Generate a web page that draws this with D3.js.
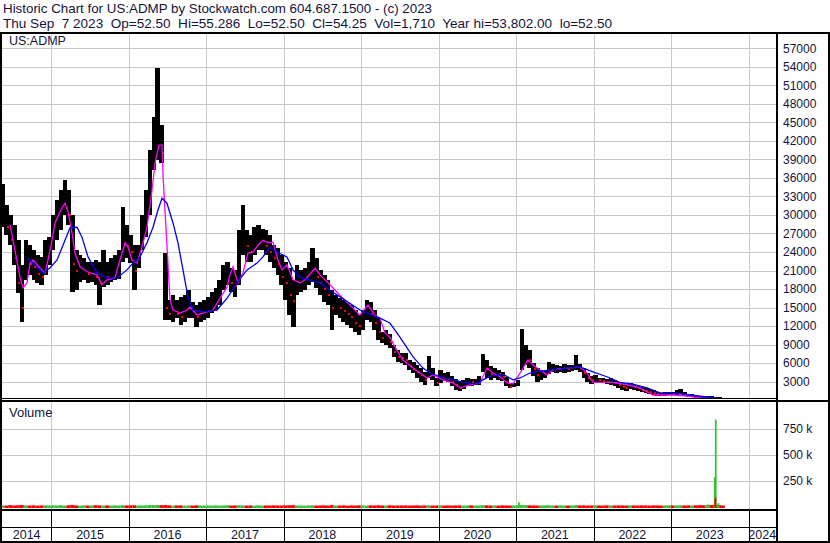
<!DOCTYPE html>
<html><head><meta charset="utf-8">
<script src="https://cdn.jsdelivr.net/npm/d3@7"></script>
<style>
body{margin:0;background:#fff}
svg{display:block}
text{font-family:"Liberation Sans",Arial,sans-serif;fill:#14143a}
</style>
</head><body>
<svg id="chart" width="830" height="543"></svg>
<script>
// ---------------- DATA ----------------
const titleLine1 = "Historic Chart for US:ADMP by Stockwatch.com 604.687.1500 - (c) 2023";
const titleLine2 = "Thu Sep  7 2023  Op=52.50  Hi=55.286  Lo=52.50  Cl=54.25  Vol=1,710  Year hi=53,802.00  lo=52.50";
const symbolLabel = "US:ADMP";
const volumeLabel = "Volume";

const priceTicks = [3000,6000,9000,12000,15000,18000,21000,24000,27000,30000,33000,36000,39000,42000,45000,48000,51000,54000,57000];
const volumeTicks = [250000,500000,750000];
const volumeTickLabels = ["250 k","500 k","750 k"];
const yearLabels = ["2014","2015","2016","2017","2018","2019","2020","2021","2022","2023","2024"];
const yearBoundaries = [2015,2016,2017,2018,2019,2020,2021,2022,2023,2024];

// price bars (decimal year, high, low, close)
const barDates = [2014.37,2014.42,2014.47,2014.52,2014.57,2014.62,2014.67,2014.72,2014.77,2014.82,2014.87,2014.92,2014.97,
2015.02,2015.07,2015.12,2015.17,2015.22,2015.27,2015.32,2015.37,2015.42,2015.47,2015.52,2015.57,2015.62,2015.67,2015.72,2015.77,2015.82,2015.87,2015.92,2015.97,
2016.02,2016.07,2016.12,2016.17,2016.22,2016.27,2016.32,2016.37,2016.42,2016.47,2016.52,2016.57,2016.62,2016.67,2016.72,2016.77,2016.82,2016.87,2016.92,2016.97,
2017.02,2017.07,2017.12,2017.17,2017.22,2017.27,2017.32,2017.37,2017.42,2017.47,2017.52,2017.57,2017.62,2017.67,2017.72,2017.77,2017.82,2017.87,2017.92,2017.97,
2018.02,2018.07,2018.12,2018.17,2018.22,2018.27,2018.32,2018.37,2018.42,2018.47,2018.52,2018.57,2018.62,2018.67,2018.72,2018.77,2018.82,2018.87,2018.92,2018.97,
2019.02,2019.07,2019.12,2019.17,2019.22,2019.27,2019.32,2019.37,2019.42,2019.47,2019.52,2019.57,2019.62,2019.67,2019.72,2019.77,2019.82,2019.87,2019.92,2019.97,
2020.02,2020.07,2020.12,2020.17,2020.22,2020.27,2020.32,2020.37,2020.42,2020.47,2020.52,2020.57,2020.62,2020.67,2020.72,2020.77,2020.82,2020.87,2020.92,2020.97,
2021.02,2021.07,2021.12,2021.17,2021.22,2021.27,2021.32,2021.37,2021.42,2021.47,2021.52,2021.57,2021.62,2021.67,2021.72,2021.77,2021.82,2021.87,2021.92,2021.97,
2022.02,2022.07,2022.12,2022.17,2022.22,2022.27,2022.32,2022.37,2022.42,2022.47,2022.52,2022.57,2022.62,2022.67,2022.72,2022.77,2022.82,2022.87,2022.92,2022.97,
2023.02,2023.07,2023.12,2023.17,2023.22,2023.27,2023.32,2023.37,2023.42,2023.47,2023.52,2023.57,2023.62,2023.67];
const barHigh = [35000,31600,30000,28400,25900,21900,25900,25100,24300,23500,23200,25900,26400,
30000,32400,34000,35700,34000,30000,24300,23500,23000,22400,22400,22700,22400,24300,22400,23000,23500,24300,31300,28400,
26700,25100,25100,30000,34000,40500,45900,53800,44600,23800,16200,17000,16200,16700,17000,17800,15900,15400,15900,16200,
16700,17500,18100,19500,21900,22400,21400,21100,27600,31600,27600,26700,28000,28400,27800,27600,26700,25100,24600,23500,
22400,21400,19500,21900,21100,21400,22400,24600,23000,21100,20300,19500,17800,17000,16500,16200,15700,15400,14600,13800,
14600,16200,15900,14600,13300,11000,11400,10700,8900,8100,7600,7600,6500,6200,5700,5200,4600,7100,5200,3600,
4900,4400,4600,3900,3400,3100,3300,3600,3400,3400,3900,7500,6500,5500,5200,4900,4600,3800,2800,2800,
3300,11500,8900,8100,6000,5200,4900,4700,6200,5800,5700,5500,5800,5700,5700,7300,5800,5200,4400,3900,
4100,3600,3600,3400,3600,3300,2900,2800,2500,2800,2600,2300,2100,2000,1800,1700,1300,1200,1300,1300,
1300,1700,1800,1300,1000,1000,840,680,680,680,680,500,500,350];
const barLow = [28000,26700,25100,21900,17400,12700,19500,20300,19500,19000,18700,20300,21900,
24300,25900,27600,30000,28400,17500,17800,19200,19500,19000,19200,18700,15400,18300,18700,19200,19500,19700,22400,23000,
22200,17800,21400,24300,26400,30000,37300,38900,38400,13000,13000,12700,13300,12200,12700,13300,13300,11900,12700,13000,
13300,14100,14600,15400,17800,18700,17500,16700,18700,23500,22400,22400,23500,24300,24300,23500,22400,21400,20300,18700,
16200,13800,11900,17000,17500,17800,18700,19200,18100,17000,15900,15400,11400,13800,13300,12700,12200,11700,11100,10600,
11400,13000,12700,11400,9700,9200,8900,8400,7000,6200,6000,5700,4900,4400,3600,2900,2500,3600,3300,2300,
2800,3100,2900,2300,1700,1500,1800,2300,2300,2500,2500,4600,3600,3300,3600,3300,3100,2300,2000,2100,
2300,4900,5700,5200,3900,2900,3300,3600,4200,4600,4400,4600,4400,4600,4800,4900,4600,3600,2900,2600,
2900,2800,2800,2600,2500,2300,2000,1700,1500,1800,1700,1500,1300,1200,1000,840,680,680,680,840,
840,840,1000,680,520,520,360,360,200,200,200,100,80,50];
const barClose = [30000,28000,26000,23000,19000,15000,23000,22000,21500,20500,20000,22000,24000,
27000,29000,31000,33000,30000,22000,21000,21000,21000,20500,21000,20000,19000,21000,20000,21000,21500,22000,26000,25000,
24000,21000,24000,27000,30000,36000,42000,44000,40000,15000,14000,14500,14000,13500,14000,15000,14500,13500,14000,14500,
15000,16000,16500,17500,20000,21000,19000,18500,24000,26000,25000,24000,26000,26000,26000,25000,24000,23000,22000,20000,
19000,17000,16000,19000,19000,20000,21000,22000,20000,19000,18000,17000,15000,15500,15000,14500,14000,13500,12500,12000,
13000,14500,14000,12500,11000,10000,10000,9500,7800,7000,6800,6500,5500,5000,4500,4000,3300,5000,4000,2800,
3800,3600,3500,3000,2500,2000,2300,3000,2900,3000,3300,6000,5000,4300,4500,4200,3800,3000,2200,2300,
2800,7000,7000,6500,5000,4000,4000,4200,5000,5200,5000,5000,5200,5100,5200,5500,5200,4400,3600,3200,
3300,3200,3100,3000,3000,2800,2500,2200,2000,2300,2200,1900,1700,1500,1300,1200,1000,900,1000,1100,
1000,1100,1300,900,700,700,600,500,400,400,300,200,150,54];
const barVolume = [16000,14000,18000,15000,17000,19000,15000,14000,16000,13000,15000,17000,14000,
16000,15000,18000,14000,16000,19000,15000,13000,16000,14000,15000,17000,16000,14000,15000,13000,16000,14000,18000,15000,
16000,17000,14000,15000,16000,19000,18000,20000,17000,19000,16000,14000,15000,16000,13000,15000,14000,16000,15000,14000,
15000,13000,16000,14000,15000,17000,14000,15000,18000,16000,14000,15000,13000,16000,14000,15000,14000,16000,15000,14000,
16000,17000,18000,15000,14000,13000,15000,16000,14000,15000,16000,14000,18000,15000,14000,16000,13000,15000,14000,16000,
15000,14000,16000,15000,17000,15000,14000,16000,15000,14000,15000,16000,14000,15000,16000,14000,15000,17000,14000,15000,
16000,14000,15000,14000,16000,15000,14000,15000,16000,14000,15000,18000,16000,14000,15000,14000,16000,15000,14000,15000,
16000,20000,18000,16000,15000,14000,16000,15000,17000,15000,14000,16000,15000,14000,15000,17000,15000,16000,14000,15000,
16000,15000,14000,16000,15000,14000,16000,15000,14000,16000,15000,14000,16000,15000,14000,16000,15000,14000,15000,16000,
15000,16000,17000,15000,16000,15000,17000,18000,16000,19000,20000,22000,18000,15000];

// isolated volume spikes
const spikeDates  = [2020.570,2021.035,2021.397,2021.410,2021.779,2023.477,2023.563,2023.576,2023.611,2023.392,2023.572];
const spikeVolume = [8000,46000,15000,10000,20000,25000,287000,841000,36000,12000,90000];
const spikeUp     = [true,true,true,true,true,true,true,true,true,false,false];

// short moving average (magenta)
const maShortDates = [2014.467,2014.531,2014.596,2014.635,2014.686,2014.725,2014.763,2014.854,2014.919,2014.957,2015.009,2015.048,2015.112,2015.177,2015.216,2015.267,2015.306,2015.371,2015.461,2015.590,2015.654,2015.719,2015.822,2015.887,2015.952,2015.990,2016.042,2016.106,2016.171,2016.235,2016.300,2016.339,2016.390,2016.429,2016.442,2016.493,2016.532,2016.571,2016.661,2016.752,2016.790,2016.881,2016.958,2017.087,2017.177,2017.268,2017.307,2017.345,2017.410,2017.474,2017.539,2017.604,2017.668,2017.733,2017.797,2017.862,2017.926,2017.978,2018.042,2018.120,2018.210,2018.275,2018.404,2018.468,2018.597,2018.726,2018.855,2018.984,2019.088,2019.178,2019.242,2019.307,2019.371,2019.436,2019.539,2019.669,2019.759,2019.850,2019.927,2020.056,2020.185,2020.276,2020.405,2020.534,2020.624,2020.702,2020.792,2020.882,2020.959,2021.050,2021.153,2021.218,2021.308,2021.398,2021.476,2021.656,2021.824,2021.915,2021.992,2022.250,2022.431,2022.599,2022.767,2023.025,2023.205,2023.373,2023.670];
const maShortValues = [28400,24300,19900,18200,19000,22200,22700,21400,20600,22700,25900,28700,30500,31900,30500,27100,23800,21600,20800,20300,18700,19500,19800,22700,25500,24800,22700,22200,24800,28000,34000,38400,41300,41300,36500,25100,16200,14600,14100,14600,15100,13800,14100,14600,16500,18300,20300,21600,19000,20600,23800,24000,25100,25900,25500,25600,22700,21100,21900,19500,19000,19500,21400,20300,18700,17000,15400,13800,15400,13800,13300,10900,10200,8600,6500,5200,4400,3600,4100,3300,2800,2000,2500,2800,5200,4400,3800,2800,2600,4400,6500,5700,4900,4100,4900,5200,5400,4400,2900,2900,2500,2000,840,840,680,360,200];

// long moving average (blue)
const maLongDates = [2014.699,2014.893,2014.983,2015.074,2015.177,2015.241,2015.332,2015.396,2015.474,2015.590,2015.719,2015.848,2015.977,2016.055,2016.145,2016.235,2016.313,2016.377,2016.429,2016.493,2016.571,2016.635,2016.700,2016.764,2016.829,2016.958,2017.138,2017.268,2017.397,2017.526,2017.655,2017.732,2017.823,2017.913,2018.042,2018.120,2018.210,2018.468,2018.597,2018.791,2018.984,2019.242,2019.371,2019.500,2019.669,2019.798,2019.888,2020.017,2020.185,2020.366,2020.495,2020.572,2020.663,2020.830,2020.959,2021.050,2021.179,2021.308,2021.476,2021.656,2021.824,2021.992,2022.172,2022.340,2022.508,2022.689,2022.857,2023.025,2023.244,2023.464,2023.670];
const maLongValues = [23000,20600,21400,22700,25900,27900,28000,26400,23200,20600,19800,19800,21100,22200,23200,25500,28000,30800,32700,31900,28700,25500,21100,16700,14600,14300,14600,16500,19000,21100,22200,23200,24800,24000,23200,21100,19900,19000,17800,16200,14600,13300,12500,10200,7000,5200,4400,3800,3300,2800,2600,3300,3900,4200,3300,3600,4400,4700,4900,5200,5400,4600,3800,2900,2600,2000,1200,1200,840,520,200];

// ---------------- LAYOUT ----------------
const svg = d3.select("#chart");
const plotL = 2, plotR = 776, frameTop = 33, priceBottom = 398.8, volTop = 401, volBottom = 509.5;
const rowLine = 527.5, bottomLine = 541.5, W = 830;

const x = d3.scaleLinear().domain([2015, 2024]).range([51.3, 748.5]);
const yP = d3.scaleLinear().domain([0, 57000]).range([400.2, 48.2]);
const yV = d3.scaleLinear().domain([0, 250000]).range([507, 481]);

svg.append("rect").attr("width", W).attr("height", 543).attr("fill", "#fff");

// clip paths
const defs = svg.append("defs");
defs.append("clipPath").attr("id","clipP").append("rect")
  .attr("x", plotL).attr("y", frameTop).attr("width", plotR-plotL).attr("height", priceBottom-frameTop);
defs.append("clipPath").attr("id","clipV").append("rect")
  .attr("x", plotL).attr("y", volTop+1).attr("width", plotR-plotL).attr("height", volBottom-volTop-2);

// gridlines
const grid = svg.append("g").attr("stroke", "#c8c8c8").attr("stroke-width", 1).attr("shape-rendering","crispEdges");
grid.selectAll("line.v").data(yearBoundaries).join("line")
  .attr("x1", d => Math.round(x(d))+0.5).attr("x2", d => Math.round(x(d))+0.5)
  .attr("y1", frameTop).attr("y2", volBottom);
grid.selectAll("line.p").data(priceTicks).join("line")
  .attr("x1", plotL).attr("x2", plotR)
  .attr("y1", d => Math.round(yP(d))+0.5).attr("y2", d => Math.round(yP(d))+0.5);
grid.selectAll("line.vv").data(volumeTicks).join("line")
  .attr("x1", plotL).attr("x2", plotR)
  .attr("y1", d => Math.round(yV(d))+0.5).attr("y2", d => Math.round(yV(d))+0.5);

// price bars
const bars = barDates.map((d,i) => ({d, hi: barHigh[i], lo: barLow[i], c: barClose[i],
  up: i === 0 || barClose[i] >= barClose[i-1], v: barVolume[i]}));
const step = x(barDates[1]) - x(barDates[0]);
const gP = svg.append("g").attr("clip-path", "url(#clipP)");
gP.append("g").attr("shape-rendering", "crispEdges")
  .selectAll("rect").data(bars).join("rect")
  .attr("x", d => x(d.d) - step*0.5).attr("width", step + 0.6)
  .attr("y", d => yP(d.hi)).attr("height", d => Math.max(1.2, yP(d.lo) - yP(d.hi)))
  .attr("fill", "#000");
gP.append("g").attr("shape-rendering", "crispEdges")
  .selectAll("rect").data(bars.filter(b => !b.up)).join("rect")
  .attr("x", d => x(d.d) + step*0.1).attr("width", 2)
  .attr("y", d => yP(d.c) - 1).attr("height", 2)
  .attr("fill", "#ff0000");

// moving averages
const line = d3.line().x(d => x(d[0])).y(d => yP(d[1]));
gP.append("path").datum(maShortDates.map((d,i) => [d, maShortValues[i]]))
  .attr("d", line).attr("fill", "none").attr("stroke", "#ff00ff").attr("stroke-width", 1.3);
gP.append("path").datum(maLongDates.map((d,i) => [d, maLongValues[i]]))
  .attr("d", line).attr("fill", "none").attr("stroke", "#0000ff").attr("stroke-width", 1.3);

// volume
const gV = svg.append("g").attr("clip-path", "url(#clipV)");
gV.selectAll("rect.vb").data(bars).join("rect")
  .attr("x", d => x(d.d) - step/2).attr("width", step)
  .attr("y", d => yV(d.v)).attr("height", d => yV(0) - yV(d.v) + 1)
  .attr("fill", d => d.up ? "#3cbf3c" : "#ff0000");
const spikes = spikeDates.map((d,i) => ({d, v: spikeVolume[i], up: spikeUp[i]}))
  .sort((a,b) => (b.up - a.up));
gV.selectAll("rect.sp").data(spikes).join("rect")
  .attr("x", d => x(d.d) - 0.8).attr("width", 1.8)
  .attr("y", d => yV(d.v)).attr("height", d => yV(0) - yV(d.v) + 1)
  .attr("fill", d => d.up ? "#3cbf3c" : "#ff0000");

// right axis labels
const axP = d3.axisRight(yP).tickValues(priceTicks).tickSize(0).tickPadding(6).tickFormat(d3.format("d"));
svg.append("g").attr("transform", `translate(${plotR+1},0)`).call(axP)
  .call(g => g.select(".domain").remove())
  .selectAll("text").attr("font-size", 12).attr("font-family", "Liberation Sans, Arial, sans-serif").attr("fill", "#14143a");
const axV = d3.axisRight(yV).tickValues(volumeTicks).tickSize(0).tickPadding(6)
  .tickFormat((d,i) => volumeTickLabels[i]);
svg.append("g").attr("transform", `translate(${plotR+1},0)`).call(axV)
  .call(g => g.select(".domain").remove())
  .selectAll("text").attr("font-size", 12).attr("font-family", "Liberation Sans, Arial, sans-serif").attr("fill", "#14143a");

// frame lines
const frame = svg.append("g").attr("stroke", "#000").attr("shape-rendering", "crispEdges");
frame.append("line").attr("x1",0).attr("x2",W).attr("y1",frameTop-0.5).attr("y2",frameTop-0.5).attr("stroke-width",2);
frame.append("line").attr("x1",1).attr("x2",1).attr("y1",frameTop-1).attr("y2",543).attr("stroke-width",2);
frame.append("line").attr("x1",829).attr("x2",829).attr("y1",frameTop-1).attr("y2",543).attr("stroke-width",2);
frame.append("line").attr("x1",plotR+1).attr("x2",plotR+1).attr("y1",frameTop-1).attr("y2",bottomLine+1).attr("stroke-width",2);
frame.append("line").attr("x1",0).attr("x2",plotR).attr("y1",priceBottom).attr("y2",priceBottom).attr("stroke-width",1);
frame.append("line").attr("x1",0).attr("x2",W).attr("y1",volTop).attr("y2",volTop).attr("stroke-width",1.5);
frame.append("line").attr("x1",0).attr("x2",plotR).attr("y1",volBottom).attr("y2",volBottom).attr("stroke-width",2);
frame.append("line").attr("x1",0).attr("x2",plotR).attr("y1",rowLine).attr("y2",rowLine).attr("stroke-width",1.5);
frame.append("line").attr("x1",0).attr("x2",W).attr("y1",bottomLine).attr("y2",bottomLine).attr("stroke-width",2);
frame.selectAll("line.yr").data(yearBoundaries).join("line")
  .attr("x1", d => Math.round(x(d))+0.5).attr("x2", d => Math.round(x(d))+0.5)
  .attr("y1", volBottom).attr("y2", bottomLine).attr("stroke-width", 1.5);

// year labels
const yearEdges = [plotL].concat(yearBoundaries.map(x)).concat([plotR]);
svg.append("g").selectAll("text").data(yearLabels).join("text")
  .attr("x", (d,i) => (yearEdges[i] + yearEdges[i+1]) / 2)
  .attr("y", 539).attr("text-anchor", "middle").attr("font-size", 12.5)
  .text(d => d);

// titles
svg.append("text").attr("x", 3).attr("y", 12.5).attr("font-size", 13)
  .attr("textLength", 429).attr("lengthAdjust", "spacingAndGlyphs")
  .style("white-space", "pre").text(titleLine1);
svg.append("text").attr("x", 3).attr("y", 28).attr("font-size", 13)
  .attr("textLength", 609).attr("lengthAdjust", "spacingAndGlyphs")
  .style("white-space", "pre").text(titleLine2);
svg.append("text").attr("x", 9).attr("y", 45).attr("font-size", 12.5).text(symbolLabel);
svg.append("text").attr("x", 9).attr("y", 416.5).attr("font-size", 13).text(volumeLabel);
</script>
</body></html>
